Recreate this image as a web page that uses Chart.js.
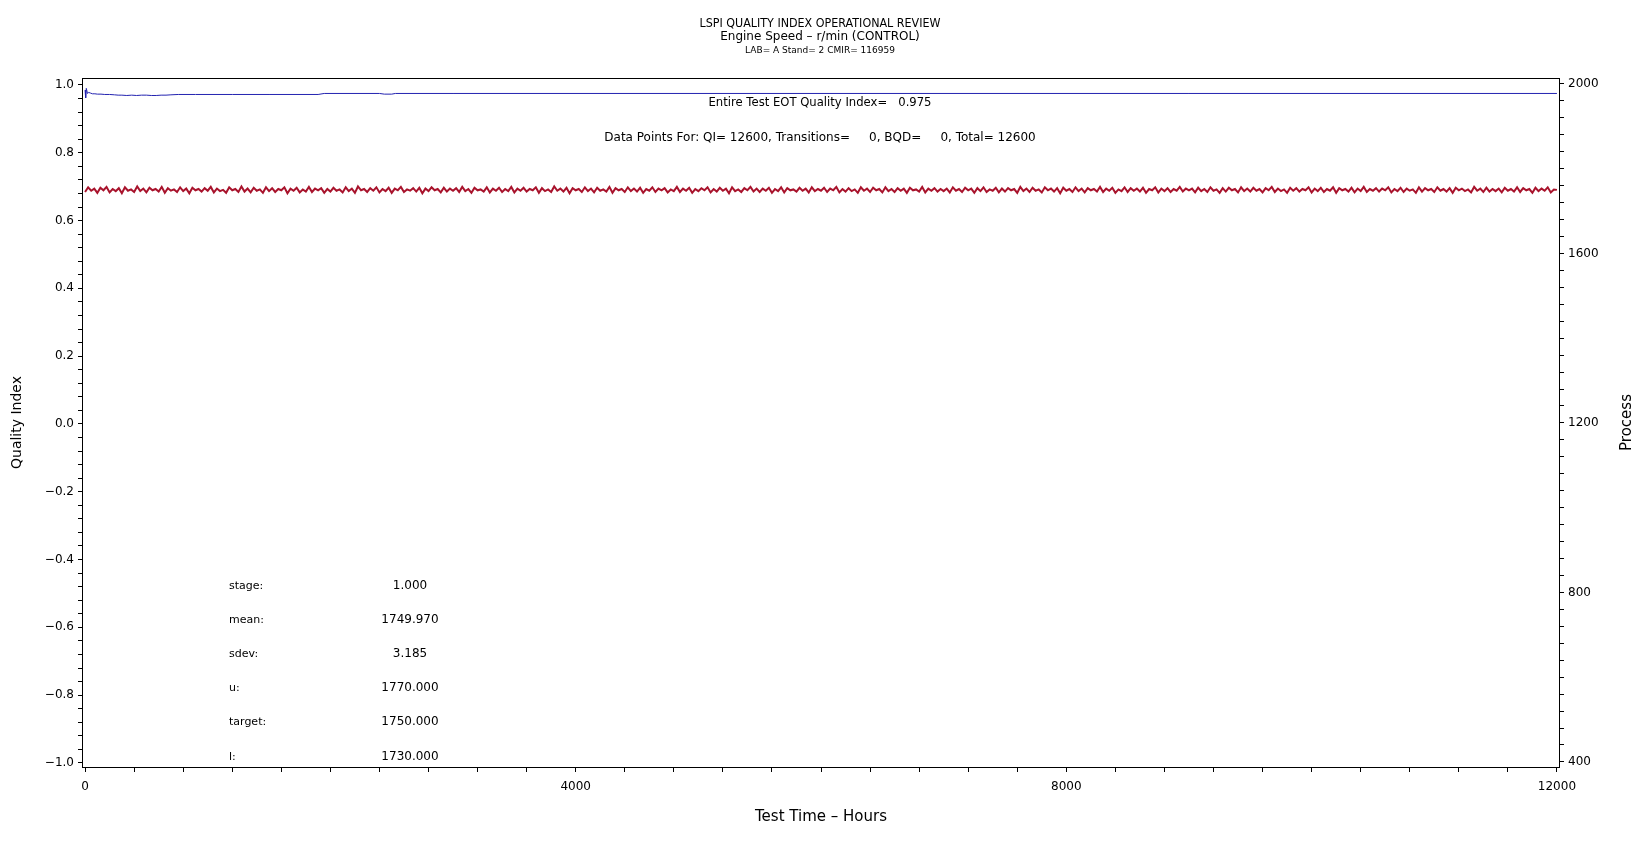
<!DOCTYPE html>
<html>
<head>
<meta charset="utf-8">
<title>LSPI Quality Index Operational Review</title>
<script src="https://cdn.jsdelivr.net/npm/chart.js@4.4.1/dist/chart.umd.min.js"></script>
<style>
    html, body { margin: 0; padding: 0; background: #fff; }
    #wrap { width: 1648px; height: 845px; }
</style>
</head>
<body>
<div id="wrap"><canvas id="qiChart" width="1648" height="845"></canvas></div>
<script>
// Textos
const titleLines = ['LSPI QUALITY INDEX OPERATIONAL REVIEW', 'Engine Speed \u2013 r/min (CONTROL)', 'LAB= A Stand= 2 CMIR= 116959'];
const qiNote = 'Entire Test EOT Quality Index=   0.975';
const countNote = 'Data Points For: QI= 12600, Transitions=     0, BQD=     0, Total= 12600';
const statLabels = ['stage:', 'mean:', 'sdev:', 'u:', 'target:', 'l:'];
const statValues = ['1.000', '1749.970', '3.185', '1770.000', '1750.000', '1730.000'];

// Ejes
const xMajorTicks = [0, 4000, 8000, 12000];
const xMinorStep = 400;
const qiMajorTicks = [-1.0, -0.8, -0.6, -0.4, -0.2, 0.0, 0.2, 0.4, 0.6, 0.8, 1.0];
const qiMinorStep = 0.04;
const processMajorTicks = [400, 800, 1200, 1600, 2000];
const processMinorStep = 40;

// Quality index (eje izquierdo)
const qiHours = [0, 5, 10, 20, 30, 45, 60, 80, 100, 130, 160, 200, 240, 270, 300, 340, 380, 420, 460, 500,
    540, 580, 620, 660, 700, 760, 900, 1200, 1500, 1900, 1950, 2400, 2440, 2500, 2530, 3000, 6000, 9000, 12000];
const qiValues = [0.985, 0.962, 0.990, 0.975, 0.978, 0.976, 0.974, 0.974, 0.973, 0.973, 0.972, 0.972, 0.971, 0.970, 0.970, 0.969, 0.970, 0.969, 0.970, 0.970,
    0.969, 0.969, 0.970, 0.970, 0.971, 0.972, 0.972, 0.972, 0.972, 0.972, 0.975, 0.975, 0.973, 0.973, 0.975, 0.975, 0.975, 0.975, 0.975];

// Proceso r/min (eje derecho), una lectura cada 25 h
const processStepHours = 25;
const processValues = [
    1745,1756,1748,1753,1743,1755,1749,1757,1744,1752,1747,1754,1742,1756,1748,1751,1745,1758,1747,1753,
    1744,1755,1749,1752,1746,1757,1743,1754,1748,1751,1745,1756,1747,1753,1742,1755,1749,1752,1746,1754,
    1748,1757,1744,1753,1747,1750,1743,1756,1749,1752,1745,1758,1746,1753,1744,1755,1748,1751,1743,1756,
    1747,1754,1745,1752,1749,1756,1742,1753,1748,1755,1744,1751,1746,1757,1745,1753,1749,1754,1743,1752,
    1746,1755,1748,1751,1744,1756,1747,1753,1743,1758,1749,1752,1745,1754,1748,1756,1744,1752,1747,1755,
    1743,1753,1749,1757,1745,1751,1748,1754,1746,1755,1742,1753,1747,1756,1749,1752,1744,1755,1746,1753,
    1748,1754,1745,1757,1747,1752,1743,1755,1749,1751,1746,1756,1744,1753,1748,1755,1745,1752,1747,1757,
    1744,1753,1748,1755,1746,1752,1749,1756,1743,1754,1747,1751,1745,1758,1748,1753,1746,1755,1742,1754,
    1749,1752,1745,1756,1747,1753,1744,1755,1748,1751,1746,1757,1743,1754,1749,1752,1745,1756,1747,1753,
    1746,1755,1743,1752,1748,1756,1745,1753,1749,1754,1744,1751,1747,1757,1745,1753,1748,1755,1743,1752,
    1747,1754,1749,1756,1744,1752,1746,1755,1748,1753,1742,1756,1747,1751,1745,1754,1749,1757,1746,1753,
    1745,1753,1748,1755,1743,1752,1747,1756,1744,1754,1749,1751,1746,1755,1748,1753,1744,1756,1747,1752,
    1748,1755,1745,1753,1749,1757,1744,1752,1746,1754,1747,1751,1743,1756,1748,1753,1745,1755,1749,1752,
    1744,1756,1747,1752,1745,1754,1748,1753,1743,1755,1749,1751,1746,1757,1744,1753,1748,1754,1746,1752,
    1747,1753,1744,1756,1748,1752,1745,1755,1749,1753,1743,1754,1747,1756,1745,1751,1748,1755,1744,1753,
    1746,1754,1749,1752,1743,1757,1747,1753,1745,1755,1748,1751,1744,1756,1749,1753,1746,1754,1742,1755,
    1748,1752,1745,1756,1747,1753,1744,1754,1749,1752,1746,1757,1745,1753,1748,1755,1743,1751,1747,1756,
    1745,1754,1748,1753,1746,1755,1743,1752,1749,1756,1744,1753,1747,1754,1745,1752,1748,1757,1746,1753,
    1749,1753,1744,1755,1747,1752,1745,1756,1748,1751,1743,1754,1746,1755,1749,1752,1744,1756,1747,1753,
    1746,1755,1748,1752,1744,1754,1749,1757,1745,1753,1747,1751,1743,1755,1748,1754,1746,1752,1749,1756,
    1744,1753,1747,1755,1745,1752,1748,1756,1743,1754,1749,1752,1746,1755,1744,1753,1747,1757,1745,1752,
    1748,1754,1746,1753,1749,1756,1744,1752,1747,1755,1745,1753,1748,1751,1743,1756,1746,1754,1749,1752,
    1745,1756,1748,1752,1746,1754,1743,1755,1749,1753,1747,1751,1744,1757,1748,1753,1745,1755,1746,1752,
    1747,1753,1744,1755,1748,1752,1746,1756,1745,1754,1749,1752,1743,1755,1747,1753,1748,1756,1744,1751,
    1750
];

const FONT = 'DejaVu Sans';
const BLACK = '#000';

// Genera marcas menores entre las mayores
function minorTicks(majors, step) {
    const first = majors[0];
    const last = majors[majors.length - 1];
    const n = Math.round((last - first) / step);
    const ticks = [];
    for (let i = 0; i <= n; i++) {
        ticks.push({ value: +(first + i * step).toFixed(6) });
    }
    return ticks;
}

function isMajor(value, majors) {
    return majors.some(m => Math.abs(m - value) < 1e-6);
}

function fmtQi(v) {
    const s = Math.abs(v).toFixed(1);
    return v < -1e-6 ? '\u2212' + s : s;
}

// Texto fuera de los ejes: titulos, notas y tabla de estadisticas
const decorPlugin = {
    id: 'decor',
    afterDraw(chart) {
        const ctx = chart.ctx;
        const a = chart.chartArea;
        const cx = (a.left + a.right) / 2 - 1;
        ctx.save();

        // Marco
        ctx.strokeStyle = BLACK;
        ctx.lineWidth = 1;
        ctx.strokeRect(Math.round(a.left) + 0.5, Math.round(a.top) + 0.5,
            Math.round(a.width) - 1, Math.round(a.height));

        ctx.fillStyle = BLACK;
        ctx.textAlign = 'center';
        ctx.textBaseline = 'alphabetic';
        ctx.font = `12.5px "${FONT}"`;
        ctx.fillText(titleLines[0], cx, 27, 241);
        ctx.font = `12px "${FONT}"`;
        ctx.fillText(titleLines[1], cx, 40, 200);
        ctx.font = `9px "${FONT}"`;
        ctx.fillText(titleLines[2], cx, 53, 153);

        ctx.textBaseline = 'middle';
        ctx.font = `12px "${FONT}"`;
        ctx.fillText(qiNote, cx, 103, 223);
        ctx.fillText(countNote, cx, 138, 434);

        // Estadisticas
        const rowY = [586, 620, 654, 688, 722, 757];
        statLabels.forEach((lab, i) => {
            ctx.textAlign = 'left';
            ctx.font = `11px "${FONT}"`;
            ctx.fillText(lab, 229, rowY[i]);
            ctx.textAlign = 'center';
            ctx.font = `12px "${FONT}"`;
            ctx.fillText(statValues[i], 410, rowY[i]);
        });

        // Titulo del eje derecho (de abajo hacia arriba)
        const y2 = chart.scales.y2;
        ctx.font = `15px "${FONT}"`;
        ctx.textAlign = 'center';
        ctx.translate(1627, (y2.top + y2.bottom) / 2);
        ctx.rotate(-Math.PI / 2);
        ctx.fillText('Process', 0, 0);
        ctx.restore();
    }
};

function init() {
    const ctx = document.getElementById('qiChart').getContext('2d');

    const qiData = qiHours.map((h, i) => ({ x: h, y: qiValues[i] }));
    const processData = processValues.map((v, i) => ({ x: i * processStepHours, y: v }));

    const tickFont = { family: FONT, size: 12 };

    new Chart(ctx, {
        type: 'line',
        data: {
            datasets: [{
                label: 'Process',
                data: processData,
                yAxisID: 'y2',
                borderColor: '#a8132c',
                borderWidth: 2,
                pointRadius: 0,
                tension: 0
            }, {
                label: 'Quality Index',
                data: qiData,
                yAxisID: 'y',
                borderColor: '#2323b0',
                borderWidth: 1,
                pointRadius: 0,
                tension: 0
            }]
        },
        options: {
            responsive: false,
            devicePixelRatio: 1,
            animation: false,
            layout: { padding: { top: 78, left: 0, right: 0, bottom: 0 } },
            plugins: {
                legend: { display: false },
                tooltip: { enabled: false },
                title: { display: false }
            },
            scales: {
                x: {
                    type: 'linear',
                    position: 'bottom',
                    min: -25,
                    max: 12025,
                    afterBuildTicks: axis => { axis.ticks = minorTicks(xMajorTicks, xMinorStep); },
                    afterFit: axis => { axis.height = 78; },
                    grid: { drawOnChartArea: false, drawTicks: true, tickLength: 5, color: BLACK, tickColor: BLACK },
                    border: { display: false },
                    ticks: {
                        autoSkip: false,
                        maxRotation: 0,
                        minRotation: 0,
                        padding: 8,
                        color: BLACK,
                        font: tickFont,
                        callback: v => isMajor(v, xMajorTicks) ? String(v) : ''
                    },
                    title: {
                        display: true,
                        text: 'Test Time \u2013 Hours',
                        color: BLACK,
                        font: { family: FONT, size: 15 },
                        padding: { top: 0, bottom: 19 }
                    }
                },
                y: {
                    type: 'linear',
                    position: 'left',
                    min: -1.012,
                    max: 1.0206,
                    afterBuildTicks: axis => { axis.ticks = minorTicks(qiMajorTicks, qiMinorStep); },
                    afterFit: axis => { axis.width = 82; },
                    grid: { drawOnChartArea: false, drawTicks: true, tickLength: 4, color: BLACK, tickColor: BLACK },
                    border: { display: false },
                    ticks: {
                        autoSkip: false,
                        padding: 4,
                        color: BLACK,
                        font: tickFont,
                        callback: v => isMajor(v, qiMajorTicks) ? fmtQi(v) : ''
                    },
                    title: {
                        display: true,
                        text: 'Quality Index',
                        color: BLACK,
                        font: { family: FONT, size: 14 },
                        padding: { top: 9, bottom: 0 }
                    }
                },
                y2: {
                    type: 'linear',
                    position: 'right',
                    min: 388,
                    max: 2014,
                    afterBuildTicks: axis => { axis.ticks = minorTicks(processMajorTicks, processMinorStep); },
                    afterFit: axis => { axis.width = 88; },
                    grid: { drawOnChartArea: false, drawTicks: true, tickLength: 4, color: BLACK, tickColor: BLACK },
                    border: { display: false },
                    ticks: {
                        autoSkip: false,
                        padding: 4,
                        color: BLACK,
                        font: tickFont,
                        callback: v => isMajor(v, processMajorTicks) ? String(v) : ''
                    }
                }
            }
        },
        plugins: [decorPlugin]
    });
}

document.addEventListener('DOMContentLoaded', init);
</script>
</body>
</html>
